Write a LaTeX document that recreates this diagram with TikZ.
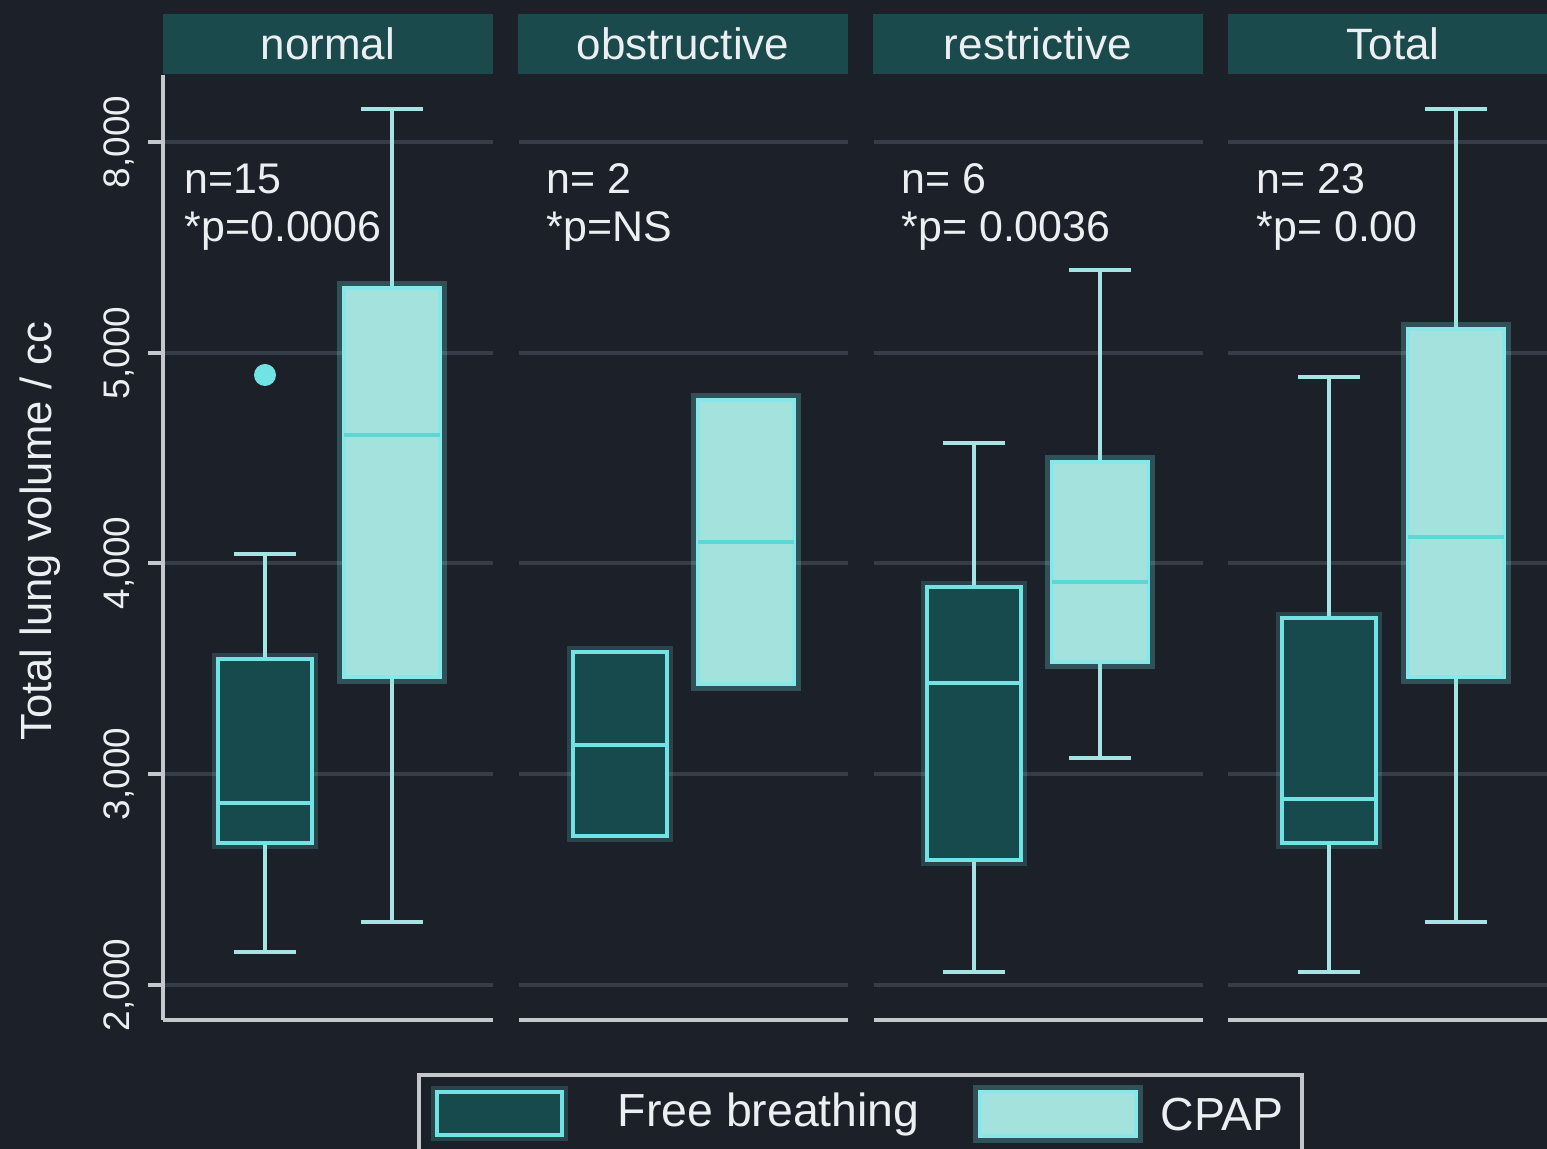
\documentclass[tikz,border=0pt]{standalone}
\usepackage{fontspec}
\setmainfont{Liberation Sans}
\usetikzlibrary{positioning}

\definecolor{bgnavy}{HTML}{1C2129}
\definecolor{stripteal}{HTML}{1B4A4C}
\definecolor{freefill}{HTML}{174A4C}
\definecolor{cyanline}{HTML}{72E3E5}
\definecolor{cpapfill}{HTML}{A4E2DE}
\definecolor{cpapmed}{HTML}{5CD7D5}
\definecolor{whiskcol}{HTML}{A6E4E4}
\definecolor{gridgray}{HTML}{363D46}
\definecolor{axisgray}{HTML}{C4C8CD}
\definecolor{txtwhite}{HTML}{ECEFF1}

\tikzset{
  strip/.style={fill=stripteal, minimum width=3.3cm, minimum height=0.59cm, inner sep=0pt,
    text=txtwhite, font=\fontsize{12.5}{14}\selectfont},
  gridline/.style={gridgray, line width=1pt},
  baseaxis/.style={axisgray, line width=1.2pt},
  ticklabel/.style={rotate=90, text=txtwhite, font=\fontsize{10.5}{12}\selectfont, inner sep=0pt},
  stat/.style={text=txtwhite, font=\fontsize{12.2}{14}\selectfont, inner sep=0pt, anchor=base west},
  whisker/.style={whiskcol, line width=1.2pt},
  freebox/.style={fill=freefill, draw=cyanline, line width=1.2pt,
    preaction={draw=cyanline, line width=3.5pt, opacity=0.18}},
  cpapbox/.style={fill=cpapfill, draw=cyanline!85!white, line width=1.2pt,
    preaction={draw=cyanline, line width=4pt, opacity=0.25}},
  legtext/.style={text=txtwhite, font=\fontsize{13.2}{15}\selectfont, inner sep=0pt, anchor=west}
}

\begin{document}
\begin{tikzpicture}[x=0.01cm, y=-0.01cm]
  % Page and background
  \fill[bgnavy] (0,0) rectangle (1547,1149);
  \useasboundingbox (0,0) rectangle (1547,1149);

  % Panel strips
  \node[strip] (hnormal) at (328,44) {normal};
  \node[strip] (hobstr) at (683,44) {obstructive};
  \node[strip] (hrestr) at (1038,44) {restrictive};
  \node[strip] (htotal) at (1393,44) {Total};

  % Grid lines and base axis of every panel
  \foreach \xl/\xr in {163/493, 519/848, 874/1203, 1228/1560} {
    \foreach \gy in {142,353,563,774,985}
      \draw[gridline] (\xl,\gy) -- (\xr,\gy);
    \draw[baseaxis] (\xl,1020) -- (\xr,1020);
  }

  % Y axis with ticks
  \draw[baseaxis] (163,75) -- (163,1020);
  \foreach \gy/\lab in {142/{8,000}, 353/{5,000}, 563/{4,000}, 774/{3,000}, 985/{2,000}} {
    \draw[baseaxis] (148,\gy) -- (163,\gy);
    \node[ticklabel] (tick\gy) at (119,\gy) {\lab};
  }
  \node[rotate=90, text=txtwhite, font=\fontsize{12.4}{14}\selectfont] (ylab) at (40,531) {Total lung volume / cc};

  % Whiskers: centre / low end / box bottom / box top / high end
  \foreach \cx/\lo/\qa/\qb/\hi in {265/952/843/659/554, 974/972/860/587/443, 1329/972/843/618/377,
                                  392/922/677/288/109, 1100/758/662/462/270, 1456/922/677/329/109} {
    \draw[whisker] (\cx,\lo) -- (\cx,\qa);
    \draw[whisker] (\cx,\qb) -- (\cx,\hi);
    \draw[whisker] (\cx-31,\lo) -- (\cx+31,\lo);
    \draw[whisker] (\cx-31,\hi) -- (\cx+31,\hi);
  }

  % Free breathing boxes
  \foreach \cx/\qa/\md/\qb in {265/843/803/659, 620/836/745/652, 974/860/683/587, 1329/843/799/618} {
    \draw[freebox] (\cx-47,\qa) rectangle (\cx+47,\qb);
    \draw[cyanline, line width=1.2pt] (\cx-47,\md) -- (\cx+47,\md);
  }

  % CPAP boxes
  \foreach \cx/\qa/\md/\qb in {392/677/435/288, 746/684/542/400, 1100/662/582/462, 1456/677/537/329} {
    \draw[cpapbox] (\cx-48,\qa) rectangle (\cx+48,\qb);
    \draw[cpapmed, line width=1.2pt] (\cx-48,\md) -- (\cx+48,\md);
  }

  % Outlier
  \fill[cyanline] (265,375) circle (11);

  % Group sizes and p values
  \node[stat] (nnormal) at (184,194) {n=15};
  \node[stat] (pnormal) at (184,242) {*p=0.0006};
  \node[stat] (nobstr) at (546,194) {n= 2};
  \node[stat] (pobstr) at (546,242) {*p=NS};
  \node[stat] (nrestr) at (901,194) {n= 6};
  \node[stat] (prestr) at (901,242) {*p= 0.0036};
  \node[stat] (ntotal) at (1256,194) {n= 23};
  \node[stat] (ptotal) at (1256,242) {*p= 0.00};

  % Legend
  \draw[axisgray, line width=1.2pt] (419,1075) rectangle (1302,1170);
  \draw[freebox] (437,1092) rectangle (562,1135);
  \node[legtext] (legfree) at (617,1115) {Free breathing};
  \draw[cpapbox] (980,1092) rectangle (1136,1136);
  \node[legtext] (legcpap) at (1160,1115) {CPAP};
\end{tikzpicture}
\end{document}
